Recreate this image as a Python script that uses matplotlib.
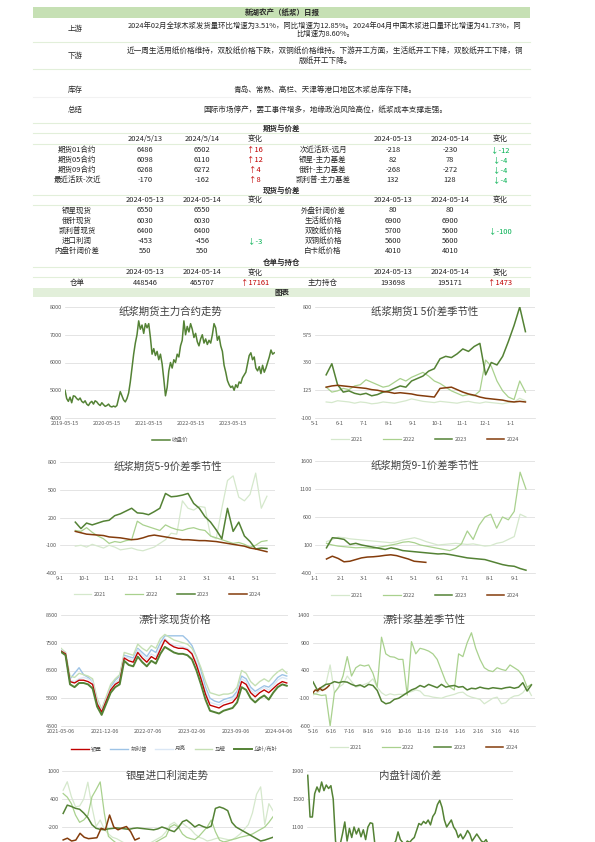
import pandas as pd
import matplotlib
matplotlib.use('Agg')
import matplotlib.pyplot as plt

plt.rcParams['font.family'] = ['Noto Sans CJK SC', 'DejaVu Sans']
plt.rcParams['axes.unicode_minus'] = False

# ---------------- table data ----------------
upstream_lines = ['2024年02月全球木浆发货量环比增速为3.51%，同比增速为12.85%。2024年04月中国木浆进口量环比增速为41.73%，同',
                  '比增速为8.60%。']
downstream_lines = ['近一周生活用纸价格维持，双胶纸价格下跌，双铜纸价格维持。下游开工方面，生活纸开工下降，双胶纸开工下降，铜',
                    '版纸开工下降。']
stock_text = '青岛、常熟、高栏、天津等港口地区木浆总库存下降。'
summary_text = '国际市场停产，罢工事件增多，地缘政治风险高位，纸浆成本支撑走强。'

fut_names = ['期货01合约', '期货05合约', '期货09合约', '最近活跃-次近']
fut_d13 = [6486, 6098, 6268, -170]
fut_d14 = [6502, 6110, 6272, -162]
fut_names2 = ['次近活跃-远月', '银星-主力基差', '俄针-主力基差', '凯利普-主力基差']
fut2_d13 = [-218, 82, -268, 132]
fut2_d14 = [-230, 78, -272, 128]

spot_names = ['银星现货', '俄针现货', '凯利普现货', '进口利润', '内盘针阔价差']
spot_d13 = [6550, 6030, 6400, -453, 550]
spot_d14 = [6550, 6030, 6400, -456, 550]
spot_names2 = ['外盘针阔价差', '生活纸价格', '双胶纸价格', '双铜纸价格', '白卡纸价格']
spot2_d13 = [80, 6900, 5700, 5600, 4010]
spot2_d14 = [80, 6900, 5600, 5600, 4010]

wr_names = ['仓单', '主力持仓']
wr_d13 = [448546, 193698]
wr_d14 = [465707, 195171]

# ---------------- chart data ----------------
close_price = [5000, 4700, 4600, 4750, 4550, 4800, 4780, 4700, 4650, 4720, 4600, 4550, 4620, 4500, 4450, 4550,
               4600, 4500, 4620, 4580, 4500, 4450, 4550, 4480, 4420,
               4450, 4500, 4420, 4400, 4430, 4400, 4450, 4700, 4950, 4800, 4650, 4580, 4700, 4900, 5300, 5800,
               6300, 6700, 7000, 7500, 7200, 7350, 7050, 7400, 7250,
               7400, 6900, 6300, 6500, 6250, 6400, 6100, 6300, 5950, 5400, 4800, 5100, 5700, 6000, 5800, 6100,
               6000, 6300, 6200, 6600, 6800, 7500, 7000, 7300, 7100,
               7400, 7200, 6900, 7050, 6750, 6600, 6850, 7000, 6700, 6850, 6650, 6800, 6700, 7000, 7400, 7250,
               6800, 6950, 6600, 6400, 5900, 5650, 5350, 5200, 5100,
               5150, 5000, 5200, 5100, 5300, 5250, 5450, 5550, 5650, 5950, 6250, 6350, 6100, 6200, 5800, 5700,
               5850, 5600, 5900, 5650, 5800, 6000, 6200, 6450, 6300, 6350]

years = ['2021', '2022', '2023', '2024']

sp15 = {
    '2021': [30, 25, 40, 35, 30, 20, 30, 25, 15, 20, 30, 25, 20, 30, 40, 55, 45, 35, 30, 25, 35, 30, 25, 20,
             30, 35, 25, 20, 30, 25, 20, 15, 25, 30, 60, 40],
    '2022': [150, 110, 120, 140, 130, 160, 170, 210, 190, 170, 150, 160, 190, 220, 200, 230, 250, 270, 240, 200,
             180, 150, 120, 100, 80, 90, 80, 120, 370, 320, 200, 120, 70, 50, 200, 110],
    '2023': [250, 340, 170, 110, 120, 100, 90, 100, 80, 90, 110, 120, 140, 160, 150, 200, 220, 240, 280, 300,
             380, 400, 390, 420, 460, 440, 480, 505, 250, 350, 330, 400, 520, 650, 800, 600],
    '2024': [150, 160, 165, 160, 155, 150, 145, 140, 130, 125, 115, 110, 100, 105, 100, 95, 85, 80, 75, 70,
             140, 145, 150, 130, 110, 95, 85, 70, 60, 55, 50, 45, 35, 30, 35, 30],
}

sp59 = {
    '2021': [-110, -100, -120, -90, -110, -130, -100, -120, -150, -140, -130, -150, -160, -140, -120, -80, -40,
             30, 20, 380, 300, 280, 320, 310, 0, -30, 300, 600, 650, 420, 380, 450, 680, 300, 430],
    '2022': [60, 50, 90, 40, 0, -30, -80, -60, -70, -50, -40, 160, 120, 100, 80, 60, 120, 90, 70, 60, 80, 90,
             70, 60, 0, -20, -40, -60, -80, -70, -90, -120, -100, -60, -50],
    '2023': [150, 80, 140, 120, 140, 160, 170, 220, 240, 270, 300, 250, 245, 230, 263, 300, 460, 424, 430, 442,
             460, 352, 300, 209, 150, 66, -30, 299, 50, 150, 0, -60, -140, -130, -135],
    '2024': [50, 35, 20, 15, 10, 5, -10, -15, -20, -30, -40, -35, -20, 0, 10, 0, -10, -20, -30, -40, -40, -45,
             -50, -50, -55, -60, -70, -80, -90, -100, -110, -130, -140, -155, -170],
}

sp91 = {
    '2021': [160, 200, 240, 230, 210, 200, 190, 180, 170, 160, 150, 140, 160, 190, 210, 230, 200, 160, 130, 100,
             110, 120, 130, 120, 110, 120, 100, 80, 90, 130, 150, 200, 250, 650, 600],
    '2022': [130, 100, 80, 70, 60, 50, 55, 50, 40, 60, 80, 100, 120, 150, 160, 140, 100, 80, 60, 40, 20, 0, 40,
             120, 350, 200, 450, 600, 650, 400, 600, 550, 700, 1400, 1100],
    '2023': [50, 230, 220, 200, 110, 130, 100, 80, 60, 40, 20, 50, 30, 0, -10, -20, -30, -40, -50, -60, -55,
             -70, -90, -110, -130, -140, -150, -160, -190, -220, -250, -270, -280, -320, -350],
    '2024': [-150, -100, -140, -200, -190, -160, -130, -115, -110, -100, -85, -75, -90, -120, -150, -190, -200,
             -210],
}

spot_yinxing = [7200, 7100, 6100, 6050, 6150, 6150, 6100, 6000, 5300, 5000, 5400, 5800, 6000, 6100, 6950, 6850,
                6800, 7150, 6950, 6800, 7000, 6900, 7250, 7600, 7450, 7350, 7300, 7300, 7250, 7100, 6700, 6200,
                5650, 5250, 5200, 5150, 5250, 5300, 5350, 5550, 6100, 6000, 5700, 5550, 5700, 5800, 5700, 5850,
                6000, 6100, 6050]
spot_kaili = [7250, 7150, 6200, 6400, 6600, 6350, 6250, 6100, 5400, 5100, 5500, 5900, 6150, 6300, 7050, 7000,
              6950, 7300, 7150, 7000, 7250, 7150, 7500, 7750, 7750, 7750, 7750, 7750, 7600, 7400, 7000, 6500,
              5900, 5500, 5400, 5350, 5450, 5500, 5550, 5750, 6300, 6200, 5900, 5750, 5850, 5950, 5900, 6050,
              6250, 6350, 6300]
spot_yueliang = [7250, 7100, 6150, 6100, 6200, 6250, 6200, 6100, 5400, 5050, 5450, 5850, 6050, 6200, 7000, 6950,
                 6850, 7250, 7050, 6900, 7100, 7000, 7350, 7650, 7500, 7400, 7400, 7350, 7300, 7150, 6800, 6300,
                 5750, 5350, 5300, 5250, 5350, 5400, 5450, 5650, 6200, 6100, 5800, 5650, 5800, 5900, 5800, 5950,
                 6150, 6250, 6200]
spot_mapai = [7300, 7150, 6300, 6250, 6400, 6350, 6300, 6200, 5500, 5100, 5550, 6000, 6200, 6350, 7150, 7100,
              7050, 7450, 7300, 7200, 7400, 7300, 7650, 7800, 7700, 7600, 7550, 7500, 7450, 7300, 7000, 6600,
              6100, 5700, 5650, 5600, 5650, 5650, 5700, 5900, 6500, 6400, 6100, 5950, 6100, 6200, 6100, 6300,
              6450, 6550, 6400]
spot_ezhen = [7170, 7050, 6000, 5900, 6050, 6050, 6000, 5850, 5200, 4900, 5300, 5700, 5900, 6000, 6850, 6700,
              6650, 7000, 6800, 6650, 6850, 6750, 7100, 7350, 7250, 7150, 7100, 7100, 7050, 6900, 6500, 6000,
              5450, 5050, 5000, 4950, 5050, 5100, 5150, 5350, 5900, 5800, 5500, 5350, 5500, 5600, 5450, 5700,
              5900, 6000, 5950]

basis = {
    '2021': [-40, 0, 50, 150, 500, 0, 100, 150, 300, 200, 100, 120, 150, 180, 250, 100, 0, -50, -20, -40, -30,
             -30, 0, 20, 50, 30, -50, -60, -80, -90, -100, -70, -50, -30, 0, 10, -50, -80, -100, -120, -200,
             -150, -100, -80, -200, -180, -100, -60, -50, 0, 100, -50],
    '2022': [-15, -30, -50, -40, -600, 0, 100, 300, 650, 300, 450, 500, 480, 500, 350, 100, 1000, 700, 650, 640,
             600, 600, -45, 920, 700, 800, 780, 750, 700, 600, 400, 200, 100, 50, 700, 650, 900, 1080, 800, 600,
             450, 400, 380, 450, 420, 400, 500, 450, 400, 300, 100, 150],
    '2023': [196, 50, 100, 150, 160, 200, 180, 200, 190, 150, 120, 140, 100, 150, 130, 40, -150, -200, -180,
             -120, -100, -50, 0, 50, 80, 130, 100, 150, 120, 90, 150, 100, 120, 130, 100, 110, 50, 80, 70, 100,
             80, 70, 90, 80, 70, 90, 100, 80, 100, 180, 30, 140],
    '2024': [0, 50, 30, 80, 40, 60, 90, 130],
}

profit = {
    '2021': [588, 770, 450, 233, 250, 400, 760, 233, -190, -50, -250, -350, -420, -450, -500, -550, -600, -650,
             -700, -650, -600, -550, -500, -450, -400, -300, -150, -100, -180, -120, -190, -250, -350, -420, -450,
             -500, -480, -450, -430, -450, -470, -480, -420, -350, -250, -150, 100, 500, 660, -150, 300, 150],
    '2022': [517, 440, 300, 56, -100, -50, 50, 446, 600, 766, 100, -400, -480, -550, -600, -650, -700, -750,
             -700, -680, -650, -600, -550, -500, -450, -400, -200, -150, -200, -350, -420, -450, -470, -400,
             -300, -200, -50, -300, -480, -520, -500, -470, -450, -420, -400, -380, -350, -300, -250, -200, -100,
             20],
    '2023': [91, 269, 240, 200, 180, 100, 0, -150, -228, -250, -260, -240, -230, -220, -228, -240, -250, -230,
             -220, -230, -240, -250, -260, -240, -200, -230, -270, -300, -210, -86, -50, -120, -200, -150, -190,
             -220, -180, 198, 230, 200, 150, -100, -200, -250, -300, -350, -400, -450, -500, -480, -450, -420],
    '2024': [-477, -440, -500, -480, -335, -420, -450, -440, -430, -228, -260, 56, -200, -260, -220, -190, -300,
             -480, -440],
}

spread_nk = [1838, 1243, 1243, 1576, 1672, 1600, 1743, 1620, 1700, 1650, 1690, 1500, 900, 750, 850, 1000, 1172,
             900, 1080, 950, 1100, 1000, 1080, 960, 1060, 920, 1100, 1160, 1150, 850, 700, 650, 700, 750, 800,
             750, 800, 850, 900, 1030, 920, 880, 850, 900, 880, 920, 950, 1050, 1150, 1130, 1180, 1150, 1200,
             1130, 1250, 1300, 1420, 1480, 1380, 1200, 1100, 1150, 1200, 1100, 1050, 950, 1000, 930, 980, 1050,
             1000, 900, 950, 1000, 950, 900, 880, 920, 850]

year_colors = {'2021': '#d5e8cc', '2022': '#a9d18e', '2023': '#548235', '2024': '#843c0c'}
year_lw = {'2021': 0.9, '2022': 0.9, '2023': 1.1, '2024': 1.1}

W, H = 595, 842
fig = plt.figure(figsize=(5.95, 8.42), dpi=100)


def fx(x):
    return x / W


def fy(y):
    return 1 - y / H


def txt(x, y, s, size=5.4, color='#262626', ha='center', weight='normal'):
    fig.text(fx(x), fy(y), s, ha=ha, va='center', fontsize=size, color=color, fontweight=weight)


def hline(y, color='#e2efda', lw=0.8):
    fig.add_artist(plt.Line2D([fx(33), fx(530)], [fy(y), fy(y)], color=color, lw=lw))


def band(y0, y1, color):
    fig.add_artist(plt.Rectangle((fx(33), fy(y1)), fx(530) - fx(33), fy(y0) - fy(y1), color=color, lw=0))


def chg_text(x, y, a, b):
    d = b - a
    if d > 0:
        txt(x, y, '↑' + str(d), color='#c00000')
    elif d < 0:
        txt(x, y, '↓' + str(d), color='#00b050')


# ---------------- header part ----------------
band(7, 18, '#c6e0b4')
txt(282, 12.5, '新湖农产（纸浆）日报', size=5.4, weight='bold')

txt(75, 29.5, '上游')
txt(325, 25.5, upstream_lines[0], size=5.3)
txt(325, 33.5, upstream_lines[1], size=5.3)
hline(41.5)
txt(75, 56, '下游')
txt(325, 52, downstream_lines[0], size=5.5)
txt(325, 61, downstream_lines[1], size=5.5)
hline(69)
txt(75, 90, '库存')
txt(325, 90, stock_text, size=5.5)
hline(97, color='#f2f2f2')
txt(75, 110, '总结')
txt(325, 110, summary_text, size=5.5)

cols = [77, 145, 202, 255, 323, 393, 450, 500]

# futures
hline(123)
txt(282, 128, '期货与价差', weight='bold')
hline(133)
for x, s in zip(cols[1:], ['2024/5/13', '2024/5/14', '变化', '', '2024-05-13', '2024-05-14', '变化']):
    txt(x, 139, s)
hline(143.5)
for i in range(len(fut_names)):
    y = 150 + 10 * i
    txt(cols[0], y, fut_names[i])
    txt(cols[1], y, str(fut_d13[i]))
    txt(cols[2], y, str(fut_d14[i]))
    chg_text(cols[3], y, fut_d13[i], fut_d14[i])
    txt(cols[4], y, fut_names2[i])
    txt(cols[5], y, str(fut2_d13[i]))
    txt(cols[6], y, str(fut2_d14[i]))
    chg_text(cols[7], y, fut2_d13[i], fut2_d14[i])

# spot
txt(282, 190, '现货与价差', weight='bold')
hline(195)
for x, s in zip(cols[1:], ['2024-05-13', '2024-05-14', '变化', '', '2024-05-13', '2024-05-14', '变化']):
    txt(x, 200, s)
hline(204.5)
for i in range(len(spot_names)):
    y = 210.5 + 10.2 * i
    txt(cols[0], y, spot_names[i])
    txt(cols[1], y, str(spot_d13[i]))
    txt(cols[2], y, str(spot_d14[i]))
    chg_text(cols[3], y, spot_d13[i], spot_d14[i])
    txt(cols[4], y, spot_names2[i])
    txt(cols[5], y, str(spot2_d13[i]))
    txt(cols[6], y, str(spot2_d14[i]))
    chg_text(cols[7], y, spot2_d13[i], spot2_d14[i])

# warehouse receipts
txt(282, 262, '仓单与持仓', weight='bold')
hline(267)
for x, s in zip(cols[1:], ['2024-05-13', '2024-05-14', '变化', '', '2024-05-13', '2024-05-14', '变化']):
    txt(x, 272.5, s)
hline(277.5)
txt(cols[0], 283, wr_names[0])
txt(cols[1], 283, str(wr_d13[0]))
txt(cols[2], 283, str(wr_d14[0]))
chg_text(cols[3], 283, wr_d13[0], wr_d14[0])
txt(cols[4], 283, wr_names[1])
txt(cols[5], 283, str(wr_d13[1]))
txt(cols[6], 283, str(wr_d14[1]))
chg_text(cols[7], 283, wr_d13[1], wr_d14[1])

band(288, 297, '#e2efda')
txt(282, 292.5, '图表', weight='bold')


# ---------------- charts ----------------
def make_ax(l, t, r, b):
    return fig.add_axes([fx(l), fy(b), (r - l) / W, (b - t) / H])


def style(ax, ylim, yticks, title):
    ax.set_ylim(ylim)
    ax.set_yticks(yticks)
    ax.grid(axis='y', color='#d9d9d9', lw=0.5)
    ax.set_axisbelow(True)
    for s in ['top', 'right', 'left']:
        ax.spines[s].set_visible(False)
    ax.spines['bottom'].set_color('#d9d9d9')
    ax.spines['bottom'].set_linewidth(0.5)
    ax.tick_params(labelsize=4, colors='#595959', length=0, pad=2)
    ax.patch.set_alpha(0)
    ax.text(0.5, 0.955, title, transform=ax.transAxes, ha='center', va='center',
            fontsize=7.5, color='#404040')


def legend(ax, off=-0.13, ncol=4, spacing=3.5):
    lg = ax.legend(loc='upper center', bbox_to_anchor=(0.5, off), ncol=ncol, frameon=False, fontsize=4,
                   handlelength=3.2, columnspacing=spacing, handletextpad=0.4)
    for t in lg.get_texts():
        t.set_color('#595959')


def month_ticks(ax, start, end, day=1):
    ticks = [t for t in pd.date_range(start, end, freq='MS') + pd.Timedelta(days=day - 1)]
    ax.set_xticks(ticks)
    ax.set_xticklabels([f'{t.month}-{t.day}' for t in ticks])


def seasonal(ax, data, start, end, last_end=None):
    for yr in years:
        e = last_end if (yr == '2024' and last_end) else end
        d = pd.date_range(start, e, periods=len(data[yr]))
        ax.plot(d, data[yr], color=year_colors[yr], lw=year_lw[yr], label=yr)


# 1: main contract price
ax1 = make_ax(65, 307, 275, 418)
d1 = pd.date_range('2019-05-15', '2024-05-14', periods=len(close_price))
ax1.plot(d1, close_price, color='#548235', lw=1.1, label='收盘价')
style(ax1, (4000, 8000), [4000, 5000, 6000, 7000, 8000], '纸浆期货主力合约走势')
ax1.set_xlim(pd.Timestamp('2019-05-15'), pd.Timestamp('2024-05-20'))
t1 = pd.to_datetime(['2019-05-15', '2020-05-15', '2021-05-15', '2022-05-15', '2023-05-15'])
ax1.set_xticks(t1)
ax1.set_xticklabels([t.strftime('%Y-%m-%d') for t in t1])
legend(ax1, ncol=1)

# 2: 1-5 spread
ax2 = make_ax(315, 307, 535, 418)
seasonal(ax2, sp15, '2023-05-15', '2024-01-20')
style(ax2, (-100, 800), [-100, 125, 350, 575, 800], '纸浆期货1 5价差季节性')
ax2.set_xlim(pd.Timestamp('2023-05-01'), pd.Timestamp('2024-02-01'))
month_ticks(ax2, '2023-05-01', '2024-01-01')
legend(ax2)

# 3: 5-9 spread
ax3 = make_ax(60, 462, 275, 573)
seasonal(ax3, sp59, '2023-09-20', '2024-05-15')
style(ax3, (-400, 800), [-400, -100, 200, 500, 800], '纸浆期货5-9价差季节性')
ax3.set_xlim(pd.Timestamp('2023-09-01'), pd.Timestamp('2024-05-25'))
month_ticks(ax3, '2023-09-01', '2024-05-01')
legend(ax3)

# 4: 9-1 spread
ax4 = make_ax(315, 461, 535, 573)
seasonal(ax4, sp91, '2024-01-15', '2024-09-14', last_end='2024-05-15')
style(ax4, (-400, 1600), [-400, 100, 600, 1100, 1600], '纸浆期货9-1价差季节性')
ax4.set_xlim(pd.Timestamp('2024-01-01'), pd.Timestamp('2024-09-25'))
month_ticks(ax4, '2024-01-01', '2024-09-01')
legend(ax4)

# 5: softwood spot prices
ax5 = make_ax(61, 615, 288, 726)
d5 = pd.date_range('2021-05-06', '2024-05-14', periods=len(spot_ezhen))
ax5.plot(d5, spot_kaili, color='#9dc3e6', lw=1.0, label='凯利普')
ax5.plot(d5, spot_mapai, color='#c5e0b4', lw=1.0, label='马牌')
ax5.plot(d5, spot_yueliang, color='#dbe7f5', lw=1.0, label='月亮')
ax5.plot(d5, spot_yinxing, color='#c00000', lw=1.0, label='银星')
ax5.plot(d5, spot_ezhen, color='#548235', lw=1.4, label='乌针/布针')
style(ax5, (4500, 8500), [4500, 5500, 6500, 7500, 8500], '漂针浆现货价格')
ax5.set_xlim(pd.Timestamp('2021-05-06'), pd.Timestamp('2024-05-20'))
t5 = pd.to_datetime(['2021-05-06', '2021-12-06', '2022-07-06', '2023-02-06', '2023-09-06', '2024-04-06'])
ax5.set_xticks(t5)
ax5.set_xticklabels([t.strftime('%Y-%m-%d') for t in t5])
h, l = ax5.get_legend_handles_labels()
order = [3, 0, 2, 1, 4]
lg5 = ax5.legend([h[i] for i in order], [l[i] for i in order], loc='upper center', bbox_to_anchor=(0.5, -0.13),
                 ncol=5, frameon=False, fontsize=4, handlelength=3.2, columnspacing=1.5, handletextpad=0.4)
for t in lg5.get_texts():
    t.set_color('#595959')

# 6: softwood basis seasonality
ax6 = make_ax(313, 615, 535, 726)
seasonal(ax6, basis, '2023-05-16', '2024-05-14', last_end='2023-06-12')
style(ax6, (-600, 1400), [-600, -100, 400, 900, 1400], '漂针浆基差季节性')
ax6.set_xlim(pd.Timestamp('2023-05-16'), pd.Timestamp('2024-05-20'))
month_ticks(ax6, '2023-05-01', '2024-04-01', day=16)
legend(ax6)

# 7: import profit (page cut below, only the visible ticks kept)
ax7 = make_ax(62, 771, 273, 883)
seasonal(ax7, profit, '2023-01-03', '2023-12-31', last_end='2023-05-14')
style(ax7, (-1400, 1000), [-200, 400, 1000], '银星进口利润走势')
ax7.set_xlim(pd.Timestamp('2023-01-01'), pd.Timestamp('2023-12-31'))
ax7.set_xticks([])

# 8: domestic softwood-hardwood spread
ax8 = make_ax(307, 771, 513, 883)
d8 = pd.date_range('2021-01-04', '2024-05-14', periods=len(spread_nk))
ax8.plot(d8, spread_nk, color='#548235', lw=1.1)
style(ax8, (300, 1900), [1100, 1500, 1900], '内盘针阔价差')
ax8.set_xlim(d8[0] - pd.Timedelta(days=5), d8[0] + (d8[-1] - d8[0]) / 0.88)
ax8.set_xticks([])

fig.savefig('out.png', dpi=100)
